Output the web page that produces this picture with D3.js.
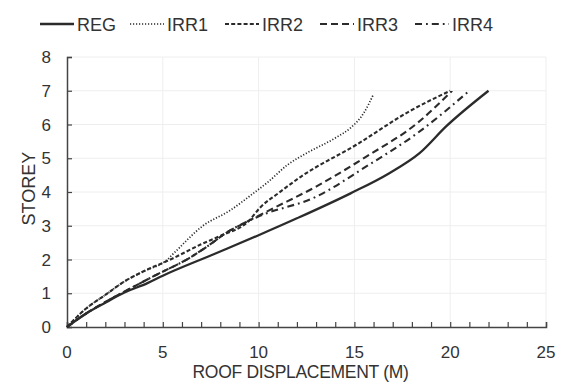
<!DOCTYPE html>
<html>
<head>
<meta charset="utf-8">
<script src="https://cdn.jsdelivr.net/npm/d3@7"></script>
<style>
  body { margin: 0; background: #fff; }
  text { font-family: "Liberation Sans", Arial, sans-serif; fill: #333; }
</style>
</head>
<body>
<script>
// series: [roof displacement, storey]
var regData = [[0,0],[1,0.4],[2,0.72],[3,1.02],[4.2,1.3],[5,1.52],[7.5,2.12],[10,2.72],[12,3.22],[14.8,3.96],[16.8,4.55],[18.4,5.15],[19.8,5.95],[22,7]];
var irr1Data = [[0,0],[1,0.55],[2,0.95],[3,1.35],[4,1.65],[5.2,1.98],[5.6,2.2],[7.1,3.0],[8.5,3.45],[9.7,3.95],[10.5,4.3],[11.5,4.8],[12.5,5.15],[14,5.6],[14.8,5.9],[15.5,6.35],[16,6.9]];
var irr2Data = [[0,0],[1,0.55],[2,0.95],[3,1.35],[4,1.65],[5.4,2.0],[7,2.45],[8,2.7],[9.5,3.15],[10.1,3.55],[11,3.95],[12.2,4.45],[15.1,5.4],[17.9,6.4],[20,7]];
var irr3Data = [[0,0],[1,0.4],[2,0.74],[3,1.05],[4.5,1.5],[6.4,2.05],[7.6,2.5],[8.2,2.75],[9.5,3.15],[10.6,3.47],[13,4.16],[15.6,5.04],[18.3,6.05],[20.1,7]];
var irr4Data = [[0,0],[1,0.4],[2,0.74],[3,1.05],[4.5,1.5],[6.4,2.05],[7.6,2.5],[8.2,2.75],[9.5,3.15],[10.1,3.3],[13,3.86],[15.6,4.75],[18.3,5.75],[21,7]];

var seriesNames = ['REG', 'IRR1', 'IRR2', 'IRR3', 'IRR4'];
var xTicks = [0, 5, 10, 15, 20, 25];
var yTicks = [0, 1, 2, 3, 4, 5, 6, 7, 8];

var width = 563, height = 391;
var margin = {left: 67, right: 17, top: 57, bottom: 64};

var svg = d3.select('body').append('svg').attr('width', width).attr('height', height);

var x = d3.scaleLinear().domain([0, 25]).range([margin.left, width - margin.right]);
var y = d3.scaleLinear().domain([0, 8]).range([height - margin.bottom, margin.top]);

// faint grid
svg.append('g').selectAll('line').data(xTicks.slice(1)).enter().append('line')
  .attr('x1', d => x(d)).attr('x2', d => x(d))
  .attr('y1', y(0)).attr('y2', y(8))
  .attr('stroke', '#eeeeee').attr('stroke-width', 1);
svg.append('g').selectAll('line').data(yTicks.slice(1)).enter().append('line')
  .attr('x1', x(0)).attr('x2', x(25))
  .attr('y1', d => y(d)).attr('y2', d => y(d))
  .attr('stroke', '#eeeeee').attr('stroke-width', 1);

// axes, ticks point inward
var xAxis = d3.axisBottom(x).tickValues(d3.range(0, 26, 1)).tickSize(-5).tickFormat('');
var xg = svg.append('g').attr('transform', 'translate(0,' + y(0) + ')').call(xAxis);
var yAxis = d3.axisLeft(y).tickValues(yTicks).tickSize(-5).tickFormat('');
var yg = svg.append('g').attr('transform', 'translate(' + x(0) + ',0)').call(yAxis);
[xg, yg].forEach(function(g) {
  g.select('.domain').attr('stroke', '#444').attr('stroke-width', 1.5);
  g.selectAll('.tick line').attr('stroke', '#444').attr('stroke-width', 1.2);
});

svg.append('g').selectAll('text').data(xTicks).enter().append('text')
  .attr('x', d => x(d)).attr('y', y(0) + 31)
  .attr('text-anchor', 'middle').style('font-size', '17px')
  .text(d => d);
svg.append('g').selectAll('text').data(yTicks).enter().append('text')
  .attr('x', 51).attr('y', d => y(d) + 6)
  .attr('text-anchor', 'end').style('font-size', '17px')
  .text(d => d);

svg.append('text').attr('x', x(12.5) - 6).attr('y', 378)
  .attr('text-anchor', 'middle').style('font-size', '17.5px').style('letter-spacing', '-0.3px')
  .text('ROOF DISPLACEMENT (M)');
svg.append('text').attr('transform', 'translate(35,' + y(4.1) + ') rotate(-90)')
  .attr('text-anchor', 'middle').style('font-size', '18px')
  .text('STOREY');

// lines
var styles = {
  REG:  {data: regData,  dash: null,        w: 2.3},
  IRR1: {data: irr1Data, dash: '1.2,1.8',   w: 1.7},
  IRR2: {data: irr2Data, dash: '4,2.2',     w: 2.1},
  IRR3: {data: irr3Data, dash: '7,4',       w: 2.1},
  IRR4: {data: irr4Data, dash: '7,4,1.8,4', w: 2.1}
};

var line = d3.line().x(d => x(d[0])).y(d => y(d[1])).curve(d3.curveMonotoneX);

seriesNames.slice().reverse().forEach(function(name) {
  var s = styles[name];
  svg.append('path').datum(s.data)
    .attr('d', line)
    .attr('fill', 'none')
    .attr('stroke', '#2b2b2b')
    .attr('stroke-width', s.w)
    .attr('stroke-dasharray', s.dash);
});

// legend
var legendX = [40, 130, 225, 320, 415];
var legend = svg.append('g');
seriesNames.forEach(function(name, i) {
  var s = styles[name];
  legend.append('line')
    .attr('x1', legendX[i]).attr('x2', legendX[i] + 34)
    .attr('y1', 24).attr('y2', 24)
    .attr('stroke', '#2b2b2b').attr('stroke-width', s.w)
    .attr('stroke-dasharray', s.dash);
  legend.append('text')
    .attr('x', legendX[i] + 37).attr('y', 31)
    .style('font-size', '18px')
    .text(name);
});
</script>
</body>
</html>
